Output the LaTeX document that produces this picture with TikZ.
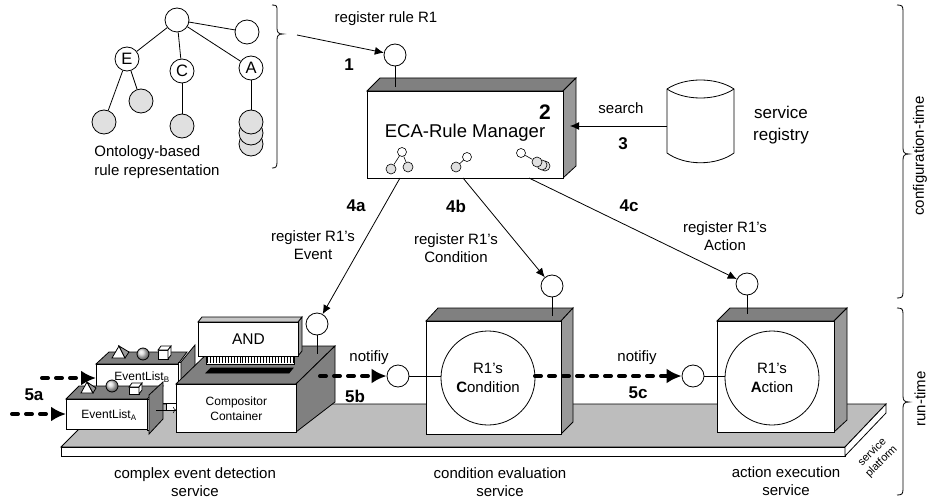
\documentclass[tikz,border=0pt]{standalone}
\usepackage{fontspec}
\setmainfont{Liberation Sans}
\usetikzlibrary{arrows.meta,shapes.geometric}
\definecolor{topgray}{gray}{0.5}
\definecolor{sidegray}{gray}{0.6}
\definecolor{leafgray}{gray}{0.88}
\definecolor{platgray}{gray}{0.74}
\newcommand{\lbl}{\fontsize{15}{18.5}\selectfont}
\newcommand{\boldlbl}{\fontsize{17}{18}\selectfont\bfseries}
\begin{document}
\begin{tikzpicture}[x=1pt,y=-1pt,line width=0.8pt,
    plain/.style={circle,draw,fill=white,inner sep=0pt,minimum size=22pt},
    inner/.style={circle,draw,fill=white,inner sep=0pt,minimum size=24pt,font=\fontsize{16.5}{17}\selectfont},
    leaf/.style={circle,draw,fill=leafgray,inner sep=0pt,minimum size=24pt},
    tinyw/.style={circle,draw,fill=white,inner sep=0pt,minimum size=9pt,line width=0.6pt},
    tinyg/.style={circle,draw,fill=leafgray,inner sep=0pt,minimum size=10pt,line width=0.6pt},
    txt/.style={font=\lbl,align=center,inner sep=0pt},
    num/.style={font=\boldlbl,inner sep=0pt},
    front/.style={draw,fill=white,rectangle,inner sep=0pt,anchor=north west},
    arr/.style={-{Latex[length=9pt,width=8pt]}},
    evt/.style={-{Latex[length=15pt,width=15pt]},line width=4pt,dash pattern=on 6pt off 8pt,line cap=round}]
\useasboundingbox (0,0) rectangle (928,500);

% platform
\draw[fill=platgray] (61,447) -- (104,404) -- (886,404) -- (845,447) -- cycle;
\draw[fill=white] (61,447) rectangle (845,456);
\draw[fill=white] (845,447) -- (886,404) -- (886,413) -- (845,456) -- cycle;
\node at (877,457) [rotate=45,font=\fontsize{11}{13}\selectfont,align=center,inner sep=0pt] {service\\platform};

% ontology tree
\node (root) at (177,20) [inner] {};
\node (rgt) at (247,32) [inner] {};
\node (e) at (127,59) [inner] {E};
\node (c) at (182,71) [inner] {C};
\node (a) at (251,68) [inner] {A};
\node (e1) at (104,122) [leaf] {};
\node (e2) at (141,101) [leaf] {};
\node (c1) at (182,126) [leaf] {};
\node (a3) at (251,144) [leaf] {};
\node (a2) at (251,133) [leaf] {};
\node (a1) at (251,122) [leaf] {};
\draw (root) -- (rgt) (root) -- (e) (root) -- (c) (root) -- (a);
\draw (e) -- (e1) (e) -- (e2);
\draw[line width=1pt] (c) -- (c1) (a) -- (a1);
\node at (94,162) [txt,anchor=west,align=left] {Ontology-based\\rule representation};

% braces
\draw (272,5) .. controls (277,5) and (277,6) .. (277,11) -- (277,28) .. controls (277,32) and (278,34) .. (283,34) .. controls (278,34) and (277,36) .. (277,40) -- (277,162) .. controls (277,167) and (276,168) .. (272,168);
\draw (897,5) .. controls (902,5) and (903,6) .. (903,11) -- (903,148) .. controls (903,152) and (904,154) .. (909,154) .. controls (904,154) and (903,156) .. (903,160) -- (903,292) .. controls (903,297) and (902,298) .. (897,298);
\draw (897,308) .. controls (902,308) and (903,309) .. (903,314) -- (903,396) .. controls (903,400) and (904,402) .. (909,402) .. controls (904,402) and (903,404) .. (903,408) -- (903,489) .. controls (903,494) and (902,495) .. (897,495);
\node at (920,156) [txt,rotate=90] {configuration-time};
\node at (920,399) [txt,rotate=90] {run-time};

% manager
\draw[fill=topgray] (367,91) -- (380,78) -- (576,78) -- (563,91) -- cycle;
\draw[fill=sidegray] (563,91) -- (576,78) -- (576,166) -- (563,178) -- cycle;
\node (mgr) at (367,91) [front,minimum width=196pt,minimum height=87pt] {};
\node (p1) at (395,55) [plain] {};
\draw (p1) -- (395,87);
\coordinate (from1) at (297,35);
\draw[arr] (from1) -- (p1);
\node at (386,19) [txt] {register rule R1};
\node at (349,65) [num] {1};
\node at (545,112) [num,font=\fontsize{21}{21}\selectfont\bfseries] {2};
\node at (465,133) [font=\fontsize{18.5}{20}\selectfont,inner sep=0pt] {ECA-Rule Manager};
\node (m1) at (402,152) [tinyw] {};
\node (m2) at (391,169) [tinyg] {};
\node (m3) at (408,167) [tinyg] {};
\draw[line width=0.6pt] (m1) -- (m2) (m1) -- (m3);
\node (m4) at (467,157) [tinyw] {};
\node (m5) at (456,167) [tinyg] {};
\draw[line width=0.6pt] (m4) -- (m5);
\node (m6) at (521,153) [tinyw] {};
\node (m9) at (545,166) [tinyg] {};
\node (m8) at (542,165) [tinyg] {};
\node (m7) at (537,162) [tinyg] {};
\draw[line width=0.6pt] (m6) -- (m7);

% registry
\draw[fill=white] (667,89) .. controls (685,77) and (716,77) .. (734,89) -- (734,153) .. controls (716,166) and (685,166) .. (667,153) -- cycle;
\draw (667,89) .. controls (685,101) and (716,101) .. (734,89);
\coordinate (regw) at (667,126);
\coordinate (mgre) at (570,126);
\draw[arr,line width=1pt] (regw) -- (mgre);
\node at (621,108) [txt] {search};
\node at (623,144) [num] {3};
\node at (781,125) [txt,font=\fontsize{17}{22}\selectfont] {service\\registry};

% event lists
\draw[fill=topgray] (96,364) -- (109,352) -- (187,352) -- (178,364) -- cycle;
\draw[fill=white] (96,364) rectangle (178,403);
\draw[fill=white] (178,362) rectangle (181,410);
\draw[fill=topgray] (181,362) -- (195,345) -- (195,390) -- (181,410) -- cycle;
\draw[fill=white] (166,403) rectangle (180,410);
\node at (142,377) [font=\fontsize{12}{14}\selectfont,inner sep=0pt] {EventList$_{\mathrm{B}}$};
\draw[fill=white] (119,346) -- (112,358) -- (125,358) -- cycle;
\draw[fill=sidegray] (119,346) -- (125,358) -- (129,352) -- cycle;
\shade[ball color=gray!30] (143,354) circle (6);
\draw (143,354) circle (6);
\draw[fill=white] (158,350) rectangle (168,359);
\draw[fill=white] (158,350) -- (161,346) -- (171,346) -- (168,350) -- cycle;
\draw[fill=white] (168,350) -- (171,346) -- (171,355) -- (168,359) -- cycle;

\draw[fill=topgray] (66,399) -- (79,386) -- (163,386) -- (147,399) -- cycle;
\draw[fill=white] (87,382) -- (81,393) -- (93,393) -- cycle;
\draw[fill=sidegray] (87,382) -- (93,393) -- (96,388) -- cycle;
\shade[ball color=gray!30] (112,386) circle (6);
\draw (112,386) circle (6);
\draw[fill=white] (129,387) rectangle (139,394);
\draw[fill=white] (129,387) -- (132,383) -- (142,383) -- (139,387) -- cycle;
\draw[fill=white] (139,387) -- (142,383) -- (142,390) -- (139,394) -- cycle;
\node (la) at (66,399) [front,minimum width=81pt,minimum height=30pt] {};
\node at (109,415) [font=\fontsize{12}{14}\selectfont,inner sep=0pt] {EventList$_{\mathrm{A}}$};
\draw[fill=white] (147,399) rectangle (149,430);
\draw[fill=topgray] (149,395) -- (163,382) -- (163,419) -- (149,434) -- cycle;
\coordinate (la1) at (156,410);
\coordinate (la2) at (176,410);
\draw[->,line width=0.6pt] (la1) -- (la2);

% compositor
\draw[fill=topgray] (176,384) -- (215,346) -- (335,346) -- (296,384) -- cycle;
\draw[fill=topgray] (296,384) -- (335,346) -- (335,402) -- (296,432) -- cycle;
\node (comp) at (176,384) [front,minimum width=120pt,minimum height=48pt,font=\fontsize{12}{15}\selectfont,align=center,anchor=north west] {Compositor\\Container};
\draw[fill=black] (206,373) -- (211,368) -- (293,368) -- (289,373) -- cycle;
\draw[fill=white] (206,356) rectangle (294,364);
\foreach \i in {0,...,29} \draw[line width=0.9pt] (207.5+2.95*\i,356) -- (207.5+2.95*\i,363);
\draw[fill=sidegray] (298,322) -- (302,317) -- (302,351) -- (298,356) -- cycle;
\draw[fill=gray!45] (198,322) -- (202,317) -- (302,317) -- (298,322) -- cycle;
\node (and) at (198,322) [front,minimum width=100pt,minimum height=34pt,font=\fontsize{15.5}{16}\selectfont] {AND};
\node (pe) at (317,324) [plain] {};
\draw (pe) -- (317,354);

% condition
\draw[fill=topgray] (426,321) -- (438,308) -- (573,308) -- (561,321) -- cycle;
\draw[fill=sidegray] (561,321) -- (573,308) -- (573,422) -- (561,434) -- cycle;
\node (cond) at (426,321) [front,minimum width=135pt,minimum height=113pt] {};
\node (rc) at (488,378) [circle,draw,fill=white,minimum size=94pt,inner sep=0pt,txt] {R1's\\\textbf{C}ondition};
\node (pc) at (552,286) [plain] {};
\draw (pc) -- (552,316);
\node (nc) at (398,376) [plain] {};
\draw (nc) -- (rc.west |- nc);

% action
\draw[fill=topgray] (717,321) -- (730,308) -- (847,308) -- (834,321) -- cycle;
\draw[fill=sidegray] (834,321) -- (847,308) -- (847,420) -- (834,432) -- cycle;
\node (act) at (717,321) [front,minimum width=117pt,minimum height=111pt] {};
\node (ra) at (772,378) [circle,draw,fill=white,minimum size=94pt,inner sep=0pt,txt] {R1's\\\textbf{A}ction};
\node (pa) at (747,284) [plain] {};
\draw (pa) -- (747,314);
\node (na) at (693,376) [plain] {};
\draw (na) -- (ra.west |- na);

% registrations
\coordinate (m4a) at (400,178);
\coordinate (m4b) at (463,178);
\coordinate (m4c) at (529,178);
\draw[arr] (m4a) -- (pe);
\draw[arr] (m4b) -- (pc);
\draw[arr] (m4c) -- (pa);
\node at (356,206) [num] {4a};
\node at (456,206) [num] {4b};
\node at (629,206) [num] {4c};
\node at (313,245) [txt] {register R1's\\Event};
\node at (456,248) [txt] {register R1's\\Condition};
\node at (725,236) [txt] {register R1's\\Action};

% notifications
\coordinate (s5a) at (12,414);
\coordinate (s5b) at (42,378);
\coordinate (s5c) at (320,376);
\coordinate (s5d) at (535,376);
\draw[evt] (s5a) -- (la.west |- s5a);
\draw[evt] (s5b) -- (96,378);
\draw[evt] (s5c) -- (nc);
\draw[evt] (s5d) -- (na);
\node at (34,395) [num] {5a};
\node at (355,396) [num] {5b};
\node at (638,393) [num] {5c};
\node at (369,358) [txt] {notifiy};
\node at (637,358) [txt] {notifiy};

% captions
\node at (195,482) [txt] {complex event detection\\service};
\node at (500,482) [txt] {condition evaluation\\service};
\node at (786,481) [txt] {action execution\\service};
\end{tikzpicture}
\end{document}
